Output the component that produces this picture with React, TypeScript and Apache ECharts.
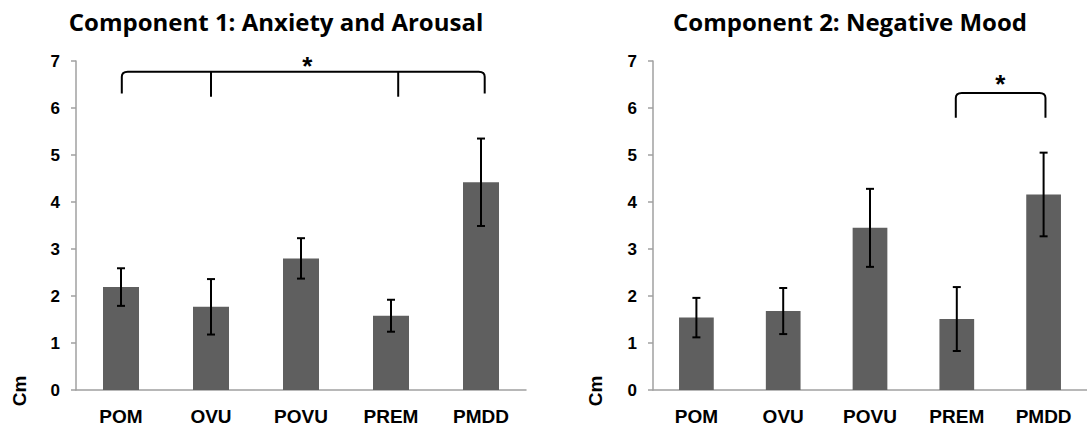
import React, { useEffect, useRef } from "react";
import * as echarts from "echarts";

const categories = ["POM", "OVU", "POVU", "PREM", "PMDD"];
const c1Means = [2.19, 1.77, 2.8, 1.58, 4.42];
const c1Errors = [0.4, 0.59, 0.43, 0.34, 0.93];
const c2Means = [1.54, 1.68, 3.45, 1.51, 4.16];
const c2Errors = [0.42, 0.49, 0.83, 0.68, 0.89];
const yMin = 0;
const yMax = 7;
const yInterval = 1;
const titles = ["Component 1: Anxiety and Arousal", "Component 2: Negative Mood"];
const yName = "Cm";

// brackets: positions in category units, heights in axis values
const bracket1 = { from: 0.02, to: 4.03, top: 6.77, drop: 6.31, inner: [1.0, 3.08], innerDrop: 6.24, star: 2.07, starY: 7.03 };
const bracket2 = { from: 3.0, to: 4.01, top: 6.32, drop: 5.79, inner: [] as number[], innerDrop: 5.79, star: 3.5, starY: 6.63 };

const BAR = "#5f5f5f";
const AXIS = "#a0a0a0";
const FONT = "'Liberation Sans', Arial, sans-serif";
const TITLE_FONT = "'Open Sans', Lato, sans-serif";

function catX(api: any, pos: number, yv: number) {
  const i = Math.floor(pos);
  const f = pos - i;
  const a = api.coord([i, yv]);
  if (f === 0) return a[0];
  const b = api.coord([i + 1, yv]);
  return a[0] + (b[0] - a[0]) * f;
}

function bracketSeries(b: typeof bracket1, idx: number) {
  return {
    type: "custom",
    xAxisIndex: idx,
    yAxisIndex: idx,
    data: [[0, b.top]],
    z: 5,
    silent: true,
    renderItem: (params: any, api: any) => {
      const yTop = api.coord([0, b.top])[1];
      const yDrop = api.coord([0, b.drop])[1];
      const yInner = api.coord([0, b.innerDrop])[1];
      const x0 = catX(api, b.from, b.top);
      const x1 = catX(api, b.to, b.top);
      const r = 5;
      const d = `M${x0 - 1},${yDrop} L${x0 - 1},${yTop + r} Q${x0 - 1},${yTop} ${x0 + r},${yTop} L${x1 - r},${yTop} Q${x1 + 1},${yTop} ${x1 + 1},${yTop + r} L${x1 + 1},${yDrop}`;
      const children: any[] = [
        {
          type: "path",
          shape: { pathData: d },
          style: { fill: "none", stroke: "#000", lineWidth: 2 },
        },
      ];
      b.inner.forEach((p) => {
        const x = catX(api, p, b.top);
        children.push({
          type: "line",
          shape: { x1: x, y1: yTop, x2: x, y2: yInner },
          style: { stroke: "#000", lineWidth: 2 },
        });
      });
      const sx = catX(api, b.star, b.starY);
      const sy = api.coord([0, b.starY])[1];
      children.push({
        type: "text",
        x: sx,
        y: sy + 6,
        style: { text: "*", fill: "#000", font: `bold 26px ${FONT}`, align: "center", verticalAlign: "middle" },
      });
      return { type: "group", children };
    },
  };
}

function errorSeries(means: number[], errs: number[], idx: number) {
  return {
    type: "custom",
    xAxisIndex: idx,
    yAxisIndex: idx,
    z: 4,
    silent: true,
    encode: { x: 0, y: [1, 2] },
    data: means.map((m, i) => [i, m + errs[i], m - errs[i]]),
    renderItem: (params: any, api: any) => {
      const hi = api.coord([api.value(0), api.value(1)]);
      const lo = api.coord([api.value(0), api.value(2)]);
      const w = 4;
      const st = { stroke: "#000", lineWidth: 2 };
      return {
        type: "group",
        children: [
          { type: "line", shape: { x1: hi[0], y1: hi[1], x2: lo[0], y2: lo[1] }, style: st },
          { type: "line", shape: { x1: hi[0] - w, y1: hi[1], x2: hi[0] + w, y2: hi[1] }, style: st },
          { type: "line", shape: { x1: lo[0] - w, y1: lo[1], x2: lo[0] + w, y2: lo[1] }, style: st },
        ],
      };
    },
  };
}

function axes(idx: number) {
  const x = {
    type: "category",
    gridIndex: idx,
    data: categories,
    axisLine: { lineStyle: { color: AXIS, width: 1.5 } },
    axisTick: { show: false },
    axisLabel: { color: "#000", fontFamily: FONT, fontWeight: "bold", fontSize: 19, margin: 17, interval: 0 },
  };
  const y = {
    type: "value",
    gridIndex: idx,
    min: yMin,
    max: yMax,
    interval: yInterval,
    splitLine: { show: false },
    axisLine: { show: true, lineStyle: { color: AXIS, width: 1.5 } },
    axisTick: { show: true, length: 5, lineStyle: { color: AXIS, width: 1.5 } },
    axisLabel: { color: "#000", fontFamily: FONT, fontWeight: "bold", fontSize: 17, margin: 16 },
  };
  return { x, y };
}

export default function App() {
  const ref = useRef<HTMLDivElement>(null);
  useEffect(() => {
    if (!ref.current) return;
    const chart = echarts.init(ref.current, undefined, { renderer: "svg" });
    const a0 = axes(0);
    const a1 = axes(1);
    const titleStyle = { fontFamily: TITLE_FONT, fontWeight: "bold", fontSize: 24, color: "#000" };
    chart.setOption({
      animation: false,
      backgroundColor: "#fff",
      title: [
        { text: titles[0], left: 271, top: 4, textAlign: "center", textStyle: titleStyle },
        { text: titles[1], left: 845, top: 4, textAlign: "center", textStyle: titleStyle },
      ],
      grid: [
        { left: 76, width: 450, top: 61, bottom: 38 },
        { left: 653, width: 445, top: 61, bottom: 38 },
      ],
      xAxis: [a0.x, a1.x],
      yAxis: [a0.y, a1.y],
      graphic: [
        { type: "text", x: 19, y: 391, rotation: Math.PI / 2, style: { text: yName, fill: "#000", font: `bold 19px ${FONT}`, align: "center", verticalAlign: "middle" } },
        { type: "text", x: 595, y: 391, rotation: Math.PI / 2, style: { text: yName, fill: "#000", font: `bold 19px ${FONT}`, align: "center", verticalAlign: "middle" } },
      ],
      series: [
        { type: "bar", xAxisIndex: 0, yAxisIndex: 0, data: c1Means, barWidth: "40%", itemStyle: { color: BAR }, z: 2 },
        { type: "bar", xAxisIndex: 1, yAxisIndex: 1, data: c2Means, barWidth: "40%", itemStyle: { color: BAR }, z: 2 },
        errorSeries(c1Means, c1Errors, 0),
        errorSeries(c2Means, c2Errors, 1),
        bracketSeries(bracket1, 0),
        bracketSeries(bracket2, 1),
      ],
    });
    return () => chart.dispose();
  }, []);
  return <div ref={ref} style={{ position: "absolute", left: 0, top: 0, width: 1087, height: 428 }} />;
}
